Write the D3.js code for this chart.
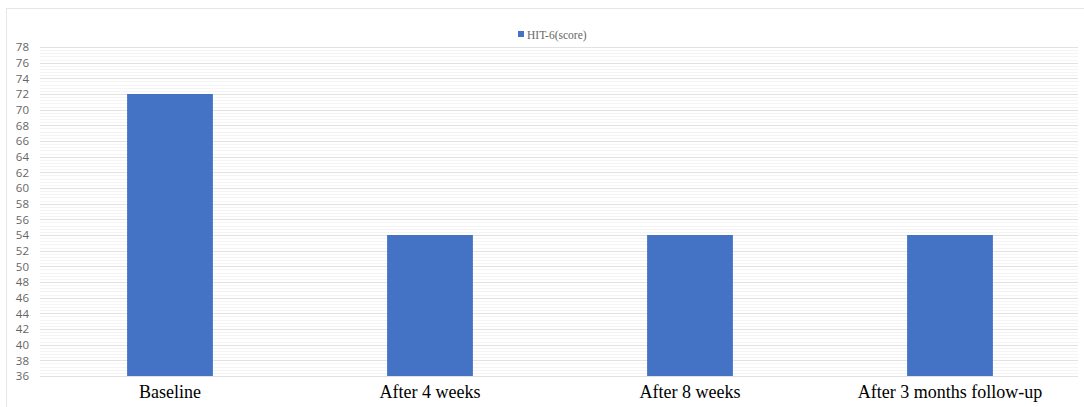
<!DOCTYPE html>
<html>
<head>
<meta charset="utf-8">
<script src="https://cdn.jsdelivr.net/npm/d3@7"></script>
<style>
  html, body { margin: 0; padding: 0; background: #fff; }
  svg { display: block; }
</style>
</head>
<body>
<svg id="chart" width="1084" height="407"></svg>
<script>
// HIT-6 score over the follow-up timeline
const categories = ["Baseline", "After 4 weeks", "After 8 weeks", "After 3 months follow-up"];
const scores = [72, 54, 54, 54];
const seriesName = "HIT-6(score)";
const yTicks = d3.range(36, 79, 2);
const yMinor = d3.range(36, 78.01, 0.4);

const W = 1084, H = 407;
const margin = { left: 40, right: 4, top: 47, bottom: 31 };
const svg = d3.select("#chart");

// chart frame
svg.append("rect")
  .attr("x", 6.5).attr("y", 8.5)
  .attr("width", W - 4).attr("height", H)
  .attr("fill", "#fff").attr("stroke", "#e6e6e6");

const x = d3.scaleBand()
  .domain(categories)
  .range([margin.left, W - margin.right])
  .paddingInner(0.67).paddingOuter(0.335);

const y = d3.scaleLinear()
  .domain([36, 78])
  .range([H - margin.bottom, margin.top]);

const x0 = margin.left, x1 = 1078;

// minor gridlines
svg.append("g").selectAll("line").data(yMinor).join("line")
  .attr("x1", x0).attr("x2", x1)
  .attr("y1", d => Math.round(y(d)) + 0.5).attr("y2", d => Math.round(y(d)) + 0.5)
  .attr("stroke", "#f4f4f4").attr("stroke-width", 1);

// major gridlines
svg.append("g").selectAll("line").data(yTicks).join("line")
  .attr("x1", x0).attr("x2", x1)
  .attr("y1", d => Math.round(y(d)) + 0.5).attr("y2", d => Math.round(y(d)) + 0.5)
  .attr("stroke", "#e2e2e2").attr("stroke-width", 1);

// y axis labels
const yAxis = d3.axisLeft(y).tickValues(yTicks).tickSize(0).tickPadding(0);
svg.append("g")
  .attr("transform", `translate(29,0)`)
  .call(yAxis)
  .call(g => g.select(".domain").remove())
  .call(g => g.selectAll("text")
    .attr("fill", "#666")
    .attr("font-family", "'Open Sans', 'Liberation Sans', sans-serif")
    .attr("font-size", "11.5px"));

// bars
svg.append("g").selectAll("rect").data(categories).join("rect")
  .attr("x", d => x(d))
  .attr("width", x.bandwidth())
  .attr("y", (d, i) => y(scores[i]))
  .attr("height", (d, i) => y(36) - y(scores[i]))
  .attr("fill", "#4472c4");

// x axis labels
const xAxis = d3.axisBottom(x).tickSize(0).tickPadding(0);
svg.append("g")
  .attr("transform", `translate(0,${H - 22})`)
  .call(xAxis)
  .call(g => g.select(".domain").remove())
  .call(g => g.selectAll("text")
    .attr("fill", "#000")
    .attr("font-family", "'Liberation Serif', 'Times New Roman', serif")
    .attr("font-size", "18px"));

// legend
const legend = svg.append("g").attr("transform", "translate(518,31)");
legend.append("rect").attr("x", 0).attr("y", 0).attr("width", 6).attr("height", 6).attr("fill", "#4472c4");
legend.append("text")
  .attr("x", 9).attr("y", 7.5)
  .attr("fill", "#666")
  .attr("font-family", "'Liberation Serif', 'Times New Roman', serif")
  .attr("font-size", "11.5px")
  .text(seriesName);
</script>
</body>
</html>
